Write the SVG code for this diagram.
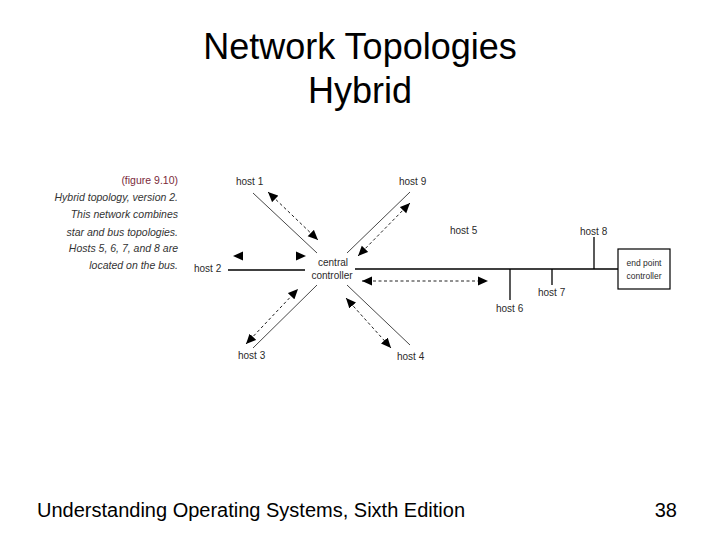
<svg xmlns="http://www.w3.org/2000/svg" width="720" height="540" viewBox="0 0 720 540">
<style>
.title{font-family:"Liberation Sans",Arial,sans-serif;font-size:36px;fill:#000;text-anchor:middle}
.foot{font-family:"Liberation Sans",Arial,sans-serif;font-size:20px;fill:#000}
.cap{font-family:"Liberation Sans",Arial,sans-serif;font-size:10.5px;font-style:italic;fill:#333;text-anchor:end}
.lbl{font-family:"Liberation Sans",Arial,sans-serif;font-size:10px;fill:#2a2a2a}
.small{font-family:"Liberation Sans",Arial,sans-serif;font-size:8.5px;fill:#2a2a2a;text-anchor:middle}
.solid{stroke:#333;stroke-width:0.9;fill:none}
.bus{stroke:#000;stroke-width:1.3;fill:none}
.dash{stroke:#222;stroke-width:1;stroke-dasharray:3,2.5;fill:none;marker-start:url(#ah);marker-end:url(#ah)}
</style>
<defs>
<marker id="ah" markerUnits="userSpaceOnUse" markerWidth="11" markerHeight="10" refX="10" refY="4.5" orient="auto-start-reverse" viewBox="0 0 11 9">
<path d="M0,0 L10,4.5 L0,9 z" fill="#000"/>
</marker>
</defs>
<rect width="720" height="540" fill="#fff"/>
<text class="title" x="360" y="59">Network Topologies</text>
<text class="title" x="360" y="103">Hybrid</text>

<g id="caption">
<text x="178" y="184" class="cap" style="font-style:normal;fill:#7a2a3a">(figure 9.10)</text>
<text x="178" y="201" class="cap">Hybrid topology, version 2.</text>
<text x="178" y="218" class="cap">This network combines</text>
<text x="178" y="236" class="cap">star and bus topologies.</text>
<text x="178" y="252" class="cap">Hosts 5, 6, 7, and 8 are</text>
<text x="178" y="269" class="cap">located on the bus.</text>
</g>

<g id="connectors">
<line class="solid" x1="253" y1="193" x2="317" y2="253"/>
<line class="dash" x1="268" y1="192" x2="318" y2="240"/>
<line class="solid" x1="410" y1="192" x2="347" y2="253"/>
<line class="dash" x1="410" y1="203" x2="358" y2="256"/>
<line class="solid" x1="253" y1="348" x2="317" y2="285"/>
<line class="dash" x1="246" y1="344" x2="298" y2="289"/>
<line class="solid" x1="347" y1="285" x2="410" y2="345"/>
<line class="dash" x1="346" y1="298" x2="391" y2="348"/>
<line class="bus" x1="228" y1="270" x2="305" y2="270"/>
<path d="M233,256 L243,251.5 L243,260.5 z" fill="#000"/>
<path d="M306,256 L296,251.5 L296,260.5 z" fill="#000"/>
<line class="bus" x1="355" y1="269" x2="618" y2="269"/>
<line class="dash" x1="362" y1="281" x2="488" y2="281"/>
<line class="bus" x1="594" y1="237" x2="594" y2="269"/>
<line class="bus" x1="510" y1="269" x2="510" y2="300"/>
<line class="bus" x1="552" y1="269" x2="552" y2="285"/>
</g>

<g id="central">
<text class="lbl" x="333" y="266" text-anchor="middle">central</text>
<text class="lbl" x="332" y="279" text-anchor="middle">controller</text>
</g>
<g id="endpoint">
<rect x="618" y="249" width="52" height="40" fill="#fff" stroke="#000" stroke-width="1.2"/>
<text class="small" x="644" y="266">end point</text>
<text class="small" x="644" y="279">controller</text>
</g>
<g id="host1"><text class="lbl" x="236" y="185">host 1</text></g>
<g id="host2"><text class="lbl" x="194" y="272">host 2</text></g>
<g id="host3"><text class="lbl" x="238" y="359">host 3</text></g>
<g id="host4"><text class="lbl" x="397" y="360">host 4</text></g>
<g id="host5"><text class="lbl" x="450" y="234">host 5</text></g>
<g id="host6"><text class="lbl" x="496" y="312">host 6</text></g>
<g id="host7"><text class="lbl" x="538" y="296">host 7</text></g>
<g id="host8"><text class="lbl" x="580" y="235">host 8</text></g>
<g id="host9"><text class="lbl" x="399" y="185">host 9</text></g>

<text class="foot" x="37" y="517">Understanding Operating Systems, Sixth Edition</text>
<text class="foot" x="677" y="517" text-anchor="end">38</text>
</svg>
